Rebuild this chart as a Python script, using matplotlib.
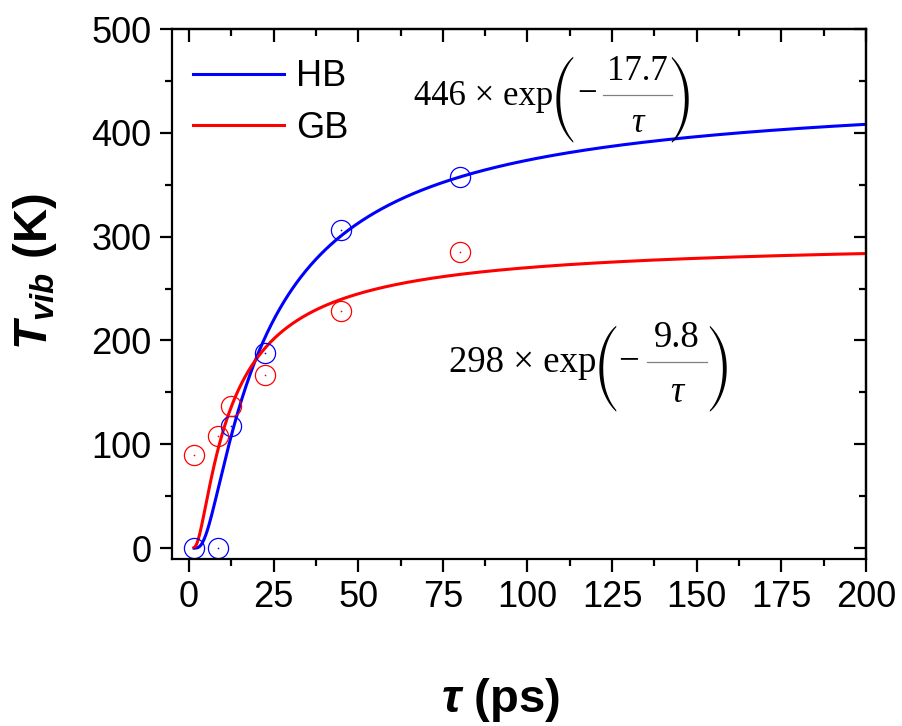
import numpy as np
import matplotlib
matplotlib.use("Agg")
import matplotlib.pyplot as plt
from matplotlib.lines import Line2D
from matplotlib.ticker import MultipleLocator

plt.rcParams['font.family'] = ['Liberation Sans', 'DejaVu Sans']
plt.rcParams['mathtext.fontset'] = 'custom'
plt.rcParams['mathtext.rm'] = 'Liberation Sans'
plt.rcParams['mathtext.it'] = 'Liberation Sans:italic'
plt.rcParams['mathtext.bf'] = 'Liberation Sans:italic:bold'

# measured vibrational temperatures
tau_pts = [1.5, 8.6, 12.5, 22.6, 45.0, 80.2]
hb_pts = [0, 0, 118, 188, 306, 357]
gb_pts = [90, 108, 137, 167, 228, 285]

# fitted parameters: A * exp(-t0 / tau)
hb_amp, hb_t0 = 446, 17.7
gb_amp, gb_t0 = 298, 9.8

xticks = [0, 25, 50, 75, 100, 125, 150, 175, 200]
yticks = [0, 100, 200, 300, 400, 500]

W, H = 903, 726
fig = plt.figure(figsize=(W / 100, H / 100), dpi=100)
ax = fig.add_axes([0.1905, 0.230, 0.7685, 0.730])


def px(x, y):
    """pixel position (from the top-left corner) -> figure fraction"""
    return x / W, 1 - y / H


tau = np.linspace(1.5, 200, 800)
ax.plot(tau, hb_amp * np.exp(-hb_t0 / tau), color='#0000ff', lw=2.2, label='HB')
ax.plot(tau, gb_amp * np.exp(-gb_t0 / tau), color='#ff0000', lw=2.2, label='GB')

for vals, col in ((hb_pts, '#0000ff'), (gb_pts, '#ff0000')):
    ax.plot(tau_pts, vals, linestyle='none', marker='o', ms=14.5, mfc='none',
            mec=col, mew=0.9)
    ax.plot(tau_pts, vals, linestyle='none', marker='o', ms=1.2, mfc=col,
            mec=col, mew=0)

ax.set_xlim(-5, 200)
ax.set_ylim(-10.5, 500)
ax.set_xticks(xticks)
ax.set_yticks(yticks)
ax.xaxis.set_minor_locator(MultipleLocator(12.5))
ax.yaxis.set_minor_locator(MultipleLocator(50))

for s in ax.spines.values():
    s.set_linewidth(1.6)
ax.tick_params(which='both', labelsize=26, width=1.6, direction='out',
               top=False, right=False, pad=6)
ax.tick_params(which='major', length=9)
ax.tick_params(which='minor', length=5)

# inward ticks on the top and right edges
ax_top = ax.secondary_xaxis('top')
ax_top.set_xticks(xticks)
ax_top.xaxis.set_minor_locator(MultipleLocator(12.5))
ax_top.tick_params(which='both', direction='in', width=1.6, labeltop=False)
ax_top.tick_params(which='major', length=9)
ax_top.tick_params(which='minor', length=5)
ax_top.spines['top'].set_linewidth(1.6)
ax_right = ax.secondary_yaxis('right')
ax_right.set_yticks(yticks)
ax_right.yaxis.set_minor_locator(MultipleLocator(50))
ax_right.tick_params(which='both', direction='in', width=1.6, labelright=False)
ax_right.tick_params(which='major', length=9)
ax_right.tick_params(which='minor', length=5)
ax_right.spines['right'].set_linewidth(1.6)

ax.legend(loc='upper left', bbox_to_anchor=(0.01, 0.97), borderaxespad=0,
          frameon=False, fontsize=26, handlelength=2.5, handletextpad=0.35,
          labelspacing=0.45)

# axis titles
fig.text(*px(35, 272), r'$\mathbf{T_{vib}}$ (K)', fontsize=34, fontweight='bold',
         rotation=90, ha='center', va='center')
fig.text(*px(500, 712), r'$\mathbf{\tau}$ (ps)', fontsize=34, fontweight='bold',
         ha='center', va='baseline')


def fit_label(amp, num, size, base, lp, minus_x, bar, num_base, den_base, rp):
    """amplitude x exp( - num / tau ) laid out with tall parentheses"""
    serif = dict(family='Liberation Serif', fontsize=size, color='black')
    fig.text(*px(lp - 10, base), f'{amp} \u00d7 exp', ha='right', va='baseline',
             **serif)
    yc = (num_base + den_base) / 2 - 6
    paren = dict(family='STIXSizeThreeSym', fontsize=25, ha='center',
                 va='center', color='black')
    fig.text(*px(lp, yc), '(', **paren)
    fig.text(*px(rp, yc), ')', **paren)
    fig.text(*px(minus_x, bar[2] + 8), '\u2212', ha='center', va='baseline', **serif)
    fig.add_artist(Line2D([bar[0] / W, bar[1] / W], [1 - bar[2] / H] * 2,
                          transform=fig.transFigure, color='#808080', lw=0.9))
    xm = (bar[0] + bar[1]) / 2
    fig.text(*px(xm, num_base), f'{num}', ha='center', va='baseline', **serif)
    fig.text(*px(xm, den_base), '\u03c4', ha='center', va='baseline',
             style='italic', **serif)


fit_label(hb_amp, hb_t0, 25, 105, 563, 587, (603, 672, 95), 80, 132, 681)
fit_label(gb_amp, gb_t0, 26.5, 372, 606, 629, (647, 707, 362), 347, 402, 719)

fig.savefig('out.png', dpi=100)
